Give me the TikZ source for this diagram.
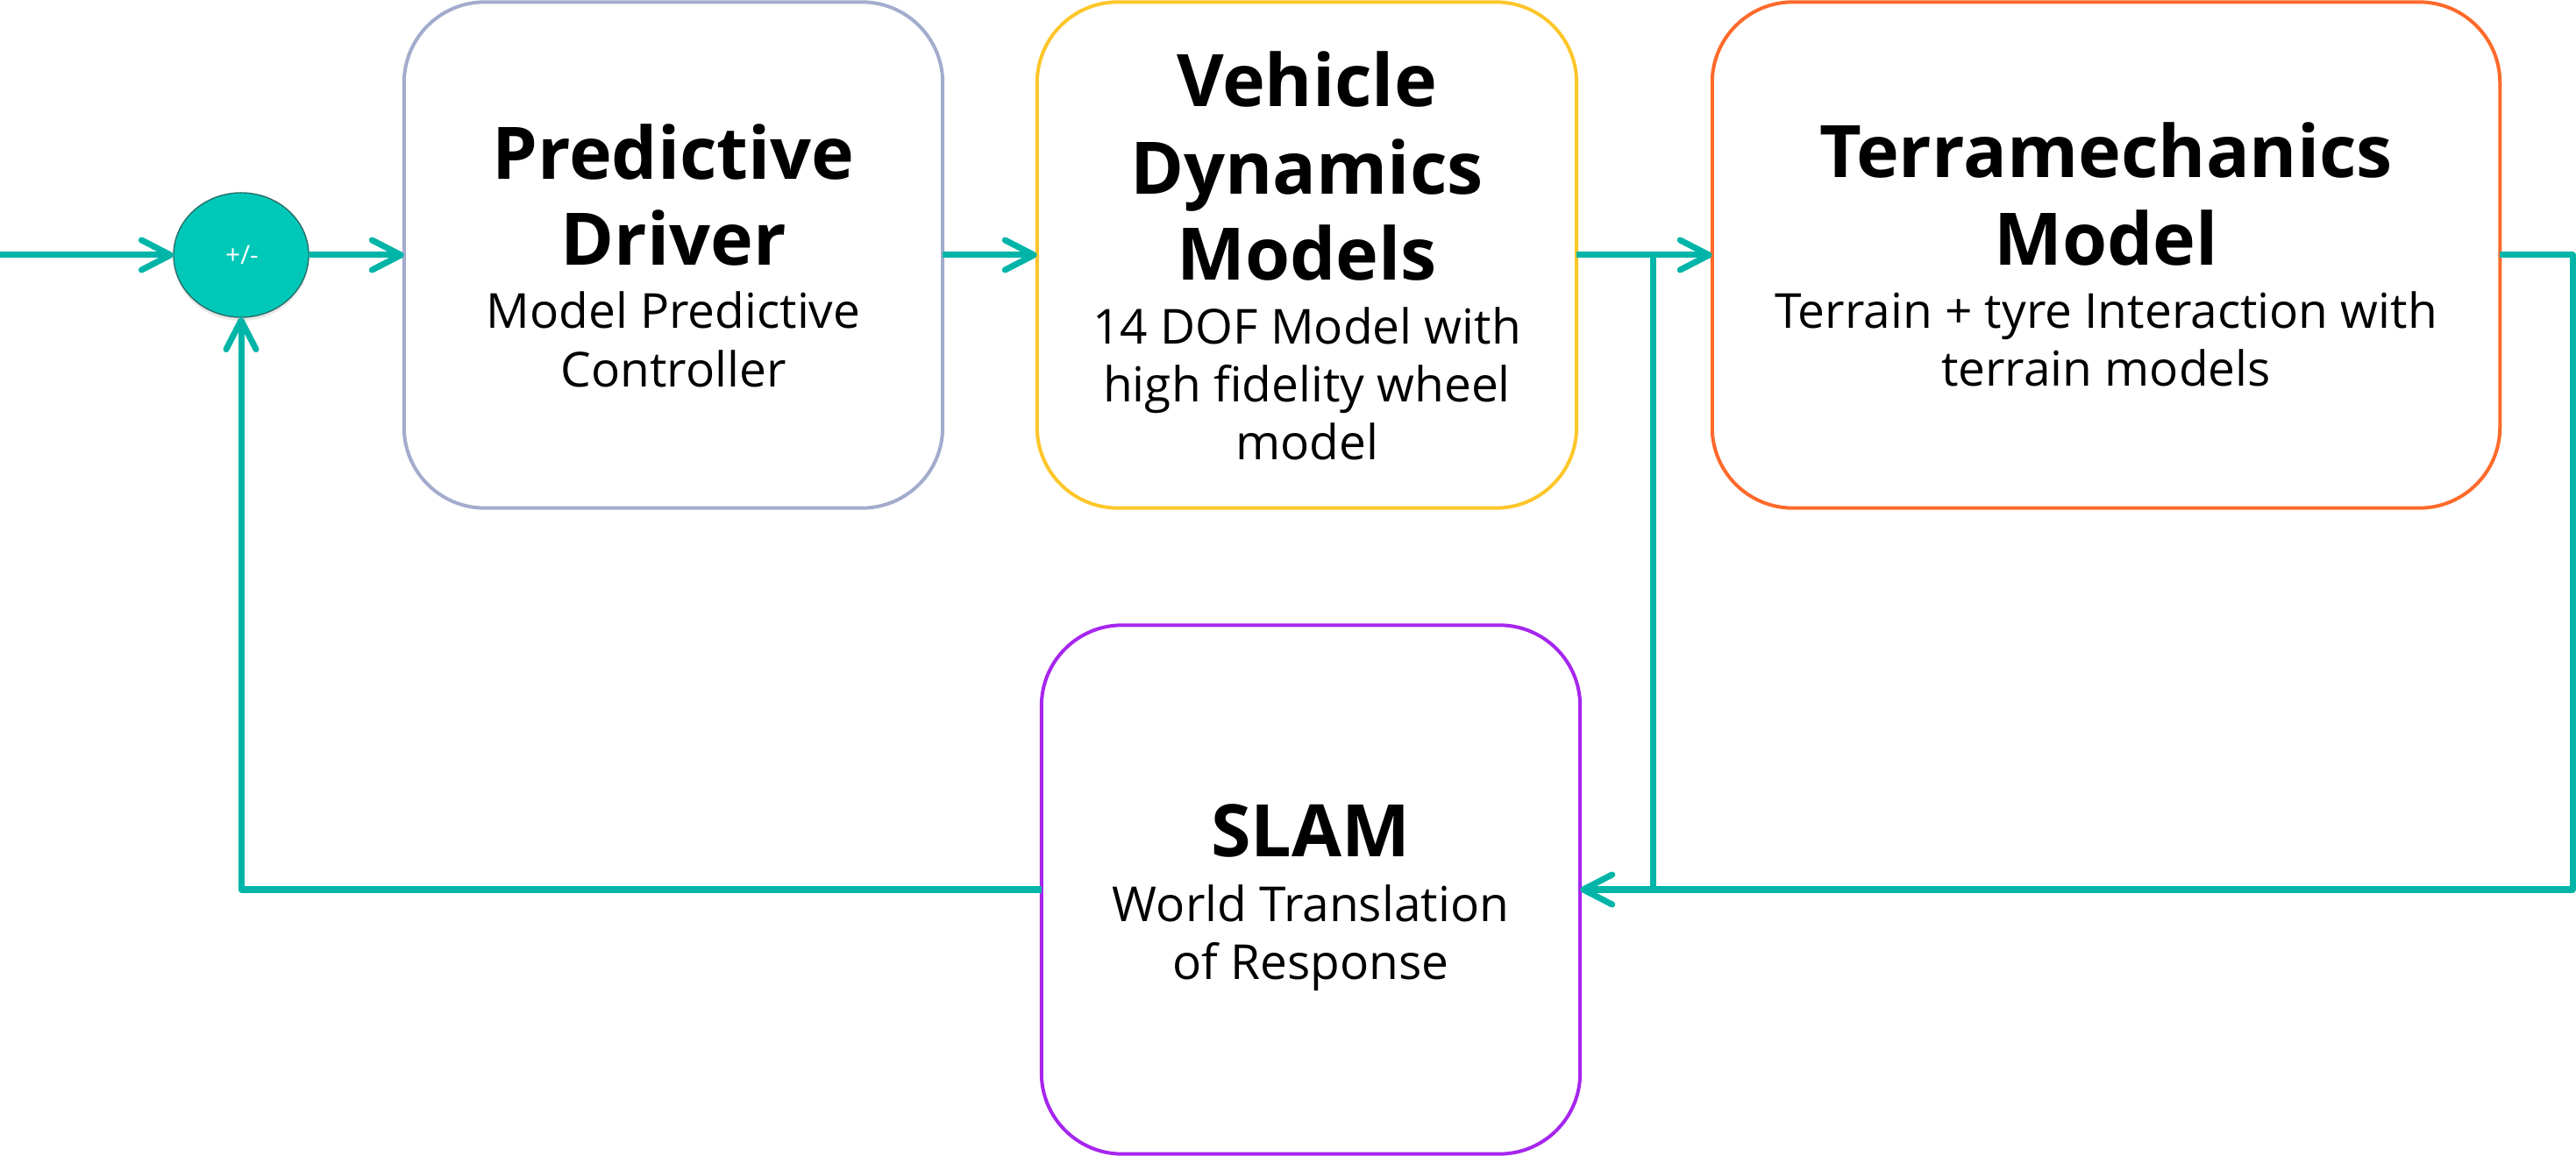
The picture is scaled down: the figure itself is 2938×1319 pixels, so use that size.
\documentclass[tikz,border=0pt]{standalone}
\usepackage{fontspec}
\setmainfont{Open Sans}
\usetikzlibrary{arrows.meta,shadows,shapes.geometric}
\definecolor{teal1}{HTML}{00B5A8}
\definecolor{sumfill}{HTML}{00C8B9}
\definecolor{sumedge}{HTML}{2A6F69}
\definecolor{pdcol}{HTML}{A3ACCD}
\definecolor{vdcol}{HTML}{FDC62A}
\definecolor{tmcol}{HTML}{FF6A2B}
\definecolor{slcol}{HTML}{A626EE}
\tikzset{
  box/.style={draw, line width=0.04cm, rounded corners=0.92cm, inner sep=0pt, outer sep=0pt, fill=white},
  ttl/.style={anchor=base, inner sep=0pt, font=\fontsize{23.5pt}{28pt}\selectfont\bfseries},
  sub/.style={anchor=base, inner sep=0pt, font=\fontsize{15.65pt}{19pt}\selectfont},
  wire/.style={draw=teal1, line width=0.07cm, line join=round},
  conn/.style={wire, -{Straight Barb[length=0.33cm, width=0.34cm, round]}}
}
\begin{document}
\begin{tikzpicture}[x=0.01cm, y=-0.01cm]
\useasboundingbox (0,0) rectangle (2938,1319);
% boxes
\node[box, draw=pdcol, minimum width=6.14cm, minimum height=5.77cm] (pd) at (768,291) {};
\node[box, draw=vdcol, minimum width=6.15cm, minimum height=5.77cm] (vd) at (1490.5,291) {};
\node[box, draw=tmcol, minimum width=8.98cm, minimum height=5.77cm] (tm) at (2402,291) {};
\node[box, draw=slcol, minimum width=6.14cm, minimum height=6.03cm] (sl) at (1495,1015) {};
% summing junction
\node[ellipse, draw=sumedge, line width=0.4pt, fill=sumfill, minimum width=1.54cm, minimum height=1.42cm, inner sep=0pt, outer sep=0pt,
      drop shadow={opacity=0.18, shadow xshift=0cm, shadow yshift=-0.04cm}] (sum) at (275,291) {};
\node[text=white, inner sep=0pt, font=\fontsize{8.5pt}{10pt}\selectfont] (sumtxt) at (276,291) {+/-};
% texts
\node[ttl] (pd1) at (768,205) {Predictive};
\node[ttl] (pd2) at (768,303) {Driver};
\node[sub] (pd3) at (768,375) {Model Predictive};
\node[sub] (pd4) at (768,442) {Controller};
\node[ttl] (vd1) at (1490.5,122) {Vehicle};
\node[ttl] (vd2) at (1490.5,222) {Dynamics};
\node[ttl] (vd3) at (1490.5,320) {Models};
\node[sub] (vd4) at (1490.5,393) {14 DOF Model with};
\node[sub] (vd5) at (1490.5,459) {high fidelity wheel};
\node[sub] (vd6) at (1490.5,525) {model};
\node[ttl] (tm1) at (2402,203) {Terramechanics};
\node[ttl] (tm2) at (2402,303) {Model};
\node[sub] (tm3) at (2402,375) {Terrain + tyre Interaction with};
\node[sub] (tm4) at (2402,441) {terrain models};
\node[ttl] (sl1) at (1495,978) {SLAM};
\node[sub] (sl2) at (1495,1051) {World Translation};
\node[sub] (sl3) at (1495,1117) {of Response};
% connectors
\coordinate (in) at (0,291);
\coordinate (j1) at (1885,291);
\coordinate (j2) at (1885,1015);
\coordinate (rt) at (2934,291);
\draw[conn] (in) -- (sum.west);
\draw[conn] (sum.east) -- (pd.west);
\draw[conn] (pd.east) -- (vd.west);
\draw[conn] (vd.east) -- (tm.west);
\draw[wire] (j1) -- (j2);
\draw[conn] (tm.east) -- (rt) |- (sl.east);
\draw[conn] (sl.west) -| (sum.south);
\end{tikzpicture}
\end{document}
